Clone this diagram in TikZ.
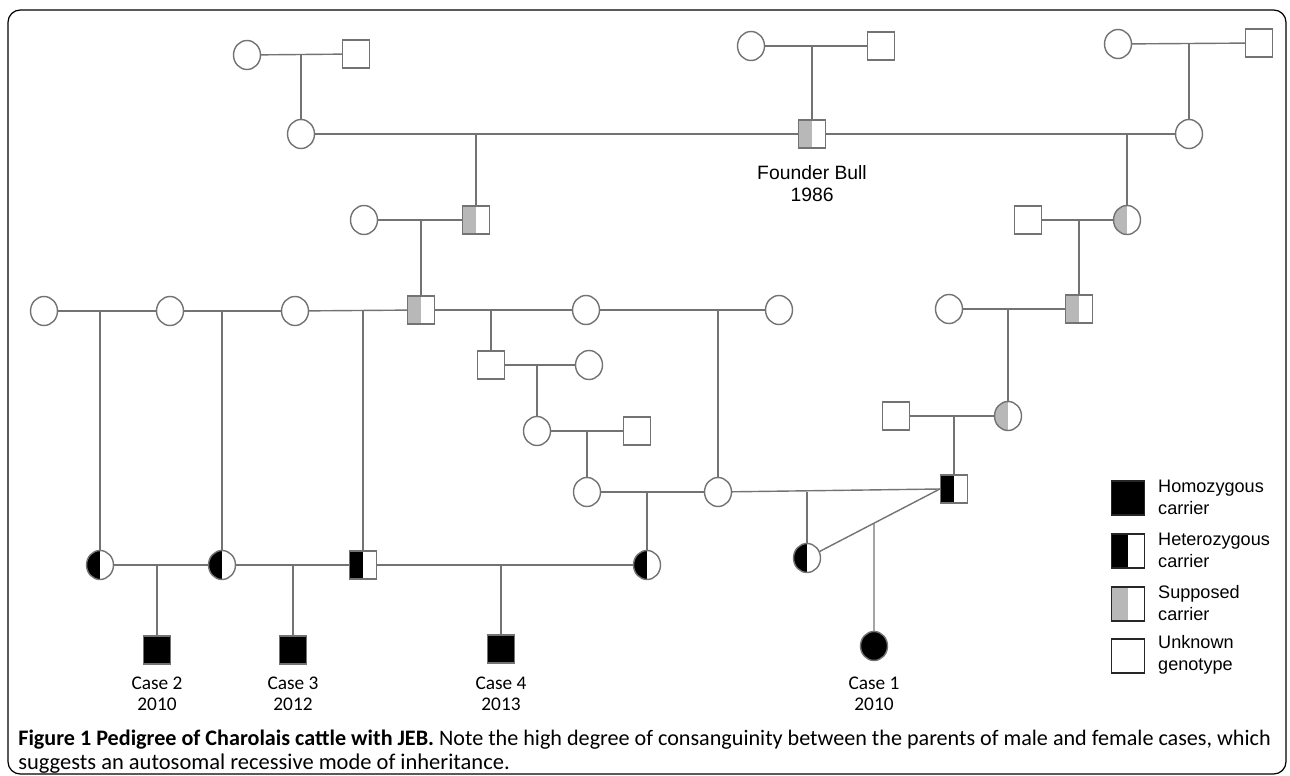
\documentclass[tikz,border=0pt]{standalone}
\usepackage{fontspec}
\setmainfont{Liberation Sans}
\newfontfamily\capfont{Carlito}
\usetikzlibrary{shapes.geometric}

\begin{document}
\begin{tikzpicture}[x=0.02cm,y=-0.02cm,
    female/.style={ellipse,draw=black!55,fill=white,line width=0.8pt,minimum width=0.54cm,minimum height=0.58cm,inner sep=0pt},
    male/.style={rectangle,draw=black!55,fill=white,line width=0.8pt,minimum width=0.54cm,minimum height=0.56cm,inner sep=0pt},
    half/.style={path picture={\fill[#1] (path picture bounding box.south west) rectangle (path picture bounding box.north);}},
    hetero/.style={half=black},
    supposed/.style={half=black!28},
    affected/.style={fill=black},
    legbox/.style={male,draw=black!85,minimum width=0.66cm,minimum height=0.68cm},
    link/.style={draw=black!55,line width=0.8pt},
    case/.style={align=center,font=\capfont\fontsize{11}{12}\selectfont},
    legtext/.style={anchor=west,align=left,font=\fontsize{10.3}{12.5}\selectfont}]
    \useasboundingbox (0,0) rectangle (1290,776);
    \draw[line width=0.7pt,rounded corners=7pt] (8,10) rectangle (1286,774);

    % top generations
    \node[female] (f1) at (247,55) {};
    \node[male] (m1) at (356,54) {};
    \node[female] (f2) at (751,46) {};
    \node[male] (m2) at (881,46) {};
    \node[female] (f3) at (1118,44) {};
    \node[male] (m3) at (1259,43) {};

    \node[female] (fa) at (301,134) {};
    \node[male,supposed] (founder) at (812,134) {};
    \node[female] (fb) at (1189,134) {};

    \node[female] (fc) at (364,220) {};
    \node[male,supposed] (mc) at (476,220) {};
    \node[male] (md) at (1028,220) {};
    \node[female,supposed] (fd) at (1127,220) {};

    % middle generations
    \node[female] (g1) at (44,311) {};
    \node[female] (g2) at (170,311) {};
    \node[female] (g3) at (295,311) {};
    \node[male,supposed] (me) at (421,310) {};
    \node[female] (g4) at (586,310) {};
    \node[female] (g5) at (779,310) {};
    \node[female] (fe) at (949,309) {};
    \node[male,supposed] (mf) at (1079,309) {};

    \node[male] (mg) at (491,365) {};
    \node[female] (fg) at (589,365) {};
    \node[female] (fh) at (537,431) {};
    \node[male] (mh) at (637,431) {};
    \node[male] (mi) at (896,416) {};
    \node[female,supposed] (ff) at (1008,416) {};

    \node[female] (k1) at (587,492) {};
    \node[female] (k2) at (718,492) {};
    \node[male,hetero] (mj) at (954,489) {};

    % carriers and cases
    \node[female,hetero] (h1) at (100,565) {};
    \node[female,hetero] (h2) at (222,565) {};
    \node[male,hetero] (hm) at (363,565) {};
    \node[female,hetero] (h4) at (647,565) {};
    \node[female,hetero] (h5) at (807,558) {};

    \node[male,affected] (c2) at (157,650) {};
    \node[male,affected] (c3) at (293,650) {};
    \node[male,affected] (c4) at (501,649) {};
    \node[female,affected] (c1) at (874,646) {};

    % matings and descent lines
    \draw[link] (f1) -- (m1);
    \draw[link] (fa) -- (fa |- f1);
    \draw[link] (f2) -- (m2);
    \draw[link] (founder) -- (founder |- f2);
    \draw[link] (f3) -- (m3);
    \draw[link] (fb) -- (fb |- f3);

    \draw[link] (fa) -- (founder);
    \draw[link] (founder) -- (fb);
    \draw[link] (mc) -- (mc |- fa);
    \draw[link] (fd) -- (fd |- fb);

    \draw[link] (fc) -- (mc);
    \draw[link] (me) -- (me |- fc);
    \draw[link] (md) -- (fd);
    \draw[link] (mf) -- (mf |- md);

    \draw[link] (g1) -- (g2);
    \draw[link] (g2) -- (g3);
    \draw[link] (g3) -- (me);
    \draw[link] (me) -- (g4);
    \draw[link] (g4) -- (g5);
    \draw[link] (h1) -- (h1 |- g1);
    \draw[link] (h2) -- (h2 |- g2);
    \draw[link] (hm) -- (hm |- g3);
    \draw[link] (mg) -- (mg |- me);
    \draw[link] (k2) -- (k2 |- g4);

    \draw[link] (fe) -- (mf);
    \draw[link] (ff) -- (ff |- fe);

    \draw[link] (mg) -- (fg);
    \draw[link] (fh) -- (fh |- mg);
    \draw[link] (fh) -- (mh);
    \draw[link] (k1) -- (k1 |- fh);
    \draw[link] (mi) -- (ff);
    \draw[link] (mj) -- (mj |- mi);

    \draw[link] (k1) -- (k2);
    \draw[link] (k2) -- (mj.west);
    \draw[link] (h4) -- (h4 |- k1);
    \draw[link] (h5) -- (h5 |- k2);
    \draw[link] (h5) -- (mj.west);
    \coordinate (c1top) at (c1 |- mj);
    \draw[link] (c1) -- (intersection of h5--mj.west and c1--c1top);

    \draw[link] (h1) -- (h2);
    \draw[link] (h2) -- (hm);
    \draw[link] (hm) -- (h4);
    \draw[link] (c2) -- (c2 |- h1);
    \draw[link] (c3) -- (c3 |- h2);
    \draw[link] (c4) -- (c4 |- hm);

    % labels
    \node[align=center,font=\fontsize{11}{12.5}\selectfont] (lfounder) at (812,184) {Founder Bull\\1986};
    \node[case] (lc2) at (157,694) {Case 2\\2010};
    \node[case] (lc3) at (293,694) {Case 3\\2012};
    \node[case] (lc4) at (501,694) {Case 4\\2013};
    \node[case] (lc1) at (874,694) {Case 1\\2010};

    % legend
    \node[legbox,affected] (l1) at (1128,498) {};
    \node[legbox,hetero] (l2) at (1128,551) {};
    \node[legbox,supposed] (l3) at (1128,604) {};
    \node[legbox] (l4) at (1128,656) {};
    \node[legtext] (t1) at (1152,497) {Homozygous\\carrier};
    \node[legtext] (t2) at (1152,550) {Heterozygous\\carrier};
    \node[legtext] (t3) at (1152,603) {Supposed\\carrier};
    \node[legtext] (t4) at (1152,655) {Unknown\\genotype};

    % caption
    \node[anchor=west,inner sep=0pt,font=\capfont\fontsize{12.5}{14}\selectfont] (cap1) at (18,740)
        {\resizebox{25.05cm}{!}{\textbf{Figure 1 Pedigree of Charolais cattle with JEB.} Note the high degree of consanguinity between the parents of male and female cases, which}};
    \node[anchor=west,inner sep=0pt,font=\capfont\fontsize{12.8}{14}\selectfont] (cap2) at (18,764)
        {suggests an autosomal recessive mode of inheritance.};
\end{tikzpicture}
\end{document}
